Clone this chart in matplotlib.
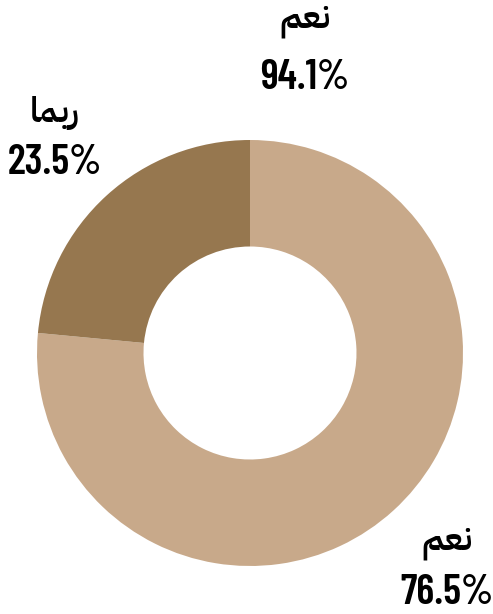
import matplotlib
matplotlib.use("Agg")
import matplotlib.pyplot as plt

# Data
categories = ["نعم", "ربما"]
values = [76.5, 23.5]
colors = ["#C8A98A", "#96774F"]
title_label = "نعم"
title_value = "94.1%"

def shape_ar(s):
    # Arabic presentation forms in visual order (matplotlib does no shaping)
    forms = {
        "نعم": "\uFEE2\uFECC\uFEE7",
        "ربما": "\uFE8E\uFEE4\uFE91\uFEAD",
    }
    return forms.get(s, s)

fig = plt.figure(figsize=(4.93, 6.14), dpi=100)
ax = fig.add_axes([37 / 493, (614 - 566) / 614, 426 / 493, 426 / 614])
ax.pie(values, colors=colors, startangle=90, counterclock=False,
       wedgeprops=dict(width=0.5, linewidth=0))
ax.set_xlim(-1, 1)
ax.set_ylim(-1, 1)
ax.set_aspect("equal")
ax.axis("off")

fam_num = ["Barlow Condensed", "DejaVu Sans"]
fam_ar = ["IBM Plex Sans Arabic", "Noto Sans Arabic", "DejaVu Sans"]
fs_num = 30
fs_ar = 25

def label(x, y_ar, y_num, word, pct):
    fig.text(x / 493, 1 - y_ar / 614, shape_ar(word), ha="center", va="center",
             fontsize=fs_ar, fontweight="semibold", family=fam_ar, color="black")
    fig.text(x / 493, 1 - y_num / 614, pct, ha="center", va="center",
             fontsize=fs_num, fontweight="semibold", family=fam_num, color="black")

label(305, 22, 78, title_label, title_value)
label(55, 113, 163, categories[1], f"{values[1]}%")
label(447, 543, 593, categories[0], f"{values[0]}%")

fig.savefig("out.png", dpi=100)
